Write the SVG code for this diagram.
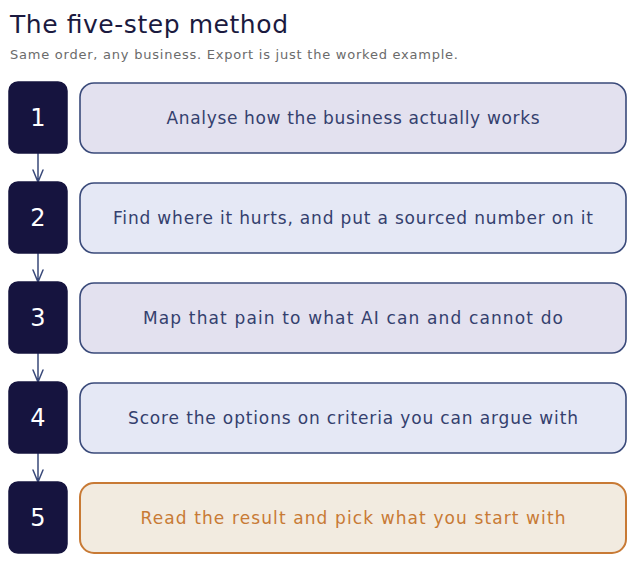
<svg xmlns="http://www.w3.org/2000/svg" width="636" height="563" viewBox="0 0 636 563">
<style>
.title{font-family:"DejaVu Sans","Liberation Sans",sans-serif;font-size:25px;fill:#1b1a3f}
.sub{font-family:"DejaVu Sans","Liberation Sans",sans-serif;font-size:13px;fill:#6b6b6b}
.num rect{fill:#16143f;stroke:#16143f;stroke-width:1.5}
.num text{font-family:"DejaVu Sans","Liberation Sans",sans-serif;font-size:24px;fill:#ffffff;text-anchor:middle}
.box rect{stroke:#3a4a7a;stroke-width:1.6}
.box text{font-family:"DejaVu Sans","Liberation Sans",sans-serif;font-size:17px;fill:#34406e;text-anchor:middle}
.lav{fill:#e3e1ef}
.blu{fill:#e5e8f5}
.last rect{fill:#f2ebe0;stroke:#c87a35;stroke-width:2}
.last text{fill:#c87a35}
.conn path{fill:none;stroke:#3a4a7a;stroke-width:1.5;stroke-linecap:round}
</style>
<text class="title" x="10" y="33" textLength="278">The five-step method</text>
<text class="sub" x="10" y="59" textLength="448">Same order, any business. Export is just the worked example.</text>
<g class="conn">
<path d="M38 153 V182 M33 170 L38 182 L43 170"/>
<path d="M38 253 V282 M33 270 L38 282 L43 270"/>
<path d="M38 353 V382 M33 370 L38 382 L43 370"/>
<path d="M38 453 V482 M33 470 L38 482 L43 470"/>
</g>
<g id="step1">
<g class="num"><rect x="9" y="82" width="58" height="71" rx="9"/><text x="38" y="126">1</text></g>
<g class="box"><rect class="lav" x="80" y="83" width="546" height="70" rx="14"/><text x="353" y="124" textLength="373">Analyse how the business actually works</text></g>
</g>
<g id="step2">
<g class="num"><rect x="9" y="182" width="58" height="71" rx="9"/><text x="38" y="226">2</text></g>
<g class="box"><rect class="blu" x="80" y="183" width="546" height="70" rx="14"/><text x="353" y="224" textLength="480">Find where it hurts, and put a sourced number on it</text></g>
</g>
<g id="step3">
<g class="num"><rect x="9" y="282" width="58" height="71" rx="9"/><text x="38" y="326">3</text></g>
<g class="box"><rect class="lav" x="80" y="283" width="546" height="70" rx="14"/><text x="353" y="324" textLength="420">Map that pain to what AI can and cannot do</text></g>
</g>
<g id="step4">
<g class="num"><rect x="9" y="382" width="58" height="71" rx="9"/><text x="38" y="426">4</text></g>
<g class="box"><rect class="blu" x="80" y="383" width="546" height="70" rx="14"/><text x="353" y="424" textLength="450">Score the options on criteria you can argue with</text></g>
</g>
<g id="step5">
<g class="num"><rect x="9" y="482" width="58" height="71" rx="9"/><text x="38" y="526">5</text></g>
<g class="box last"><rect x="80" y="483" width="546" height="70" rx="14"/><text x="353" y="524" textLength="425">Read the result and pick what you start with</text></g>
</g>
</svg>
